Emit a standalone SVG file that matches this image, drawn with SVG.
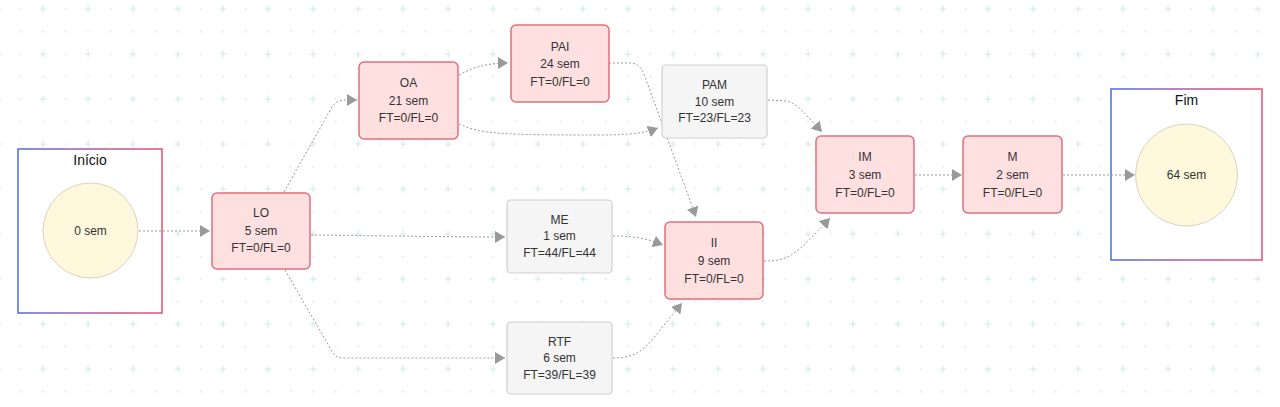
<svg xmlns="http://www.w3.org/2000/svg" width="1280" height="407" viewBox="0 0 1280 407">
<defs>
<pattern id="grid" patternUnits="userSpaceOnUse" x="31.75" y="-2.25" width="45" height="45">
<path d="M7.75,11.25 H14.75 M11.25,7.75 V14.75" stroke="#d3e8ee" stroke-width="1.2"/>
<circle cx="33.75" cy="11.25" r="1" fill="#dfe6ea"/>
<circle cx="11.25" cy="33.75" r="1" fill="#dfe6ea"/>
<circle cx="33.75" cy="33.75" r="1" fill="#dfe6ea"/>
</pattern>
<linearGradient id="bord" x1="0" y1="0" x2="1" y2="0">
<stop offset="0" stop-color="#4a6ce0"/>
<stop offset="0.5" stop-color="#b05aa8"/>
<stop offset="1" stop-color="#e5506e"/>
</linearGradient>
<marker id="arr" markerUnits="userSpaceOnUse" viewBox="0 0 10 12" refX="10" refY="6" markerWidth="10" markerHeight="12" orient="auto">
<path d="M0,0 L10,6 L0,12 z" fill="#999"/>
</marker>
<style>
.crit{fill:#ffe0e1;stroke:#e0707c;stroke-width:1.5}
.norm{fill:#f5f5f5;stroke:#cfcfcf;stroke-width:1.2}
.circ{fill:#fff8dc;stroke:#d9d2c0;stroke-width:1}
.box{fill:#ffffff;stroke:url(#bord);stroke-width:1.5}
.t{font-family:"Liberation Sans",Arial,sans-serif;font-size:12px;fill:#333;text-anchor:middle}
.title{font-family:"Liberation Sans",Arial,sans-serif;font-size:14px;fill:#111;text-anchor:middle}
.e{fill:none;stroke:#999;stroke-width:1;stroke-dasharray:2 2;marker-end:url(#arr)}
</style>
</defs>
<rect width="1280" height="407" fill="#ffffff"/>
<rect width="1280" height="407" fill="url(#grid)"/>

<g id="inicio">
<rect class="box" x="18" y="149" width="144" height="164"/>
<text class="title" x="90" y="165">Início</text>
<circle class="circ" cx="90.5" cy="230.5" r="47.5"/>
<text class="t" x="90.5" y="235">0 sem</text>
</g>

<g id="fim">
<rect class="box" x="1111" y="89" width="151" height="171"/>
<text class="title" x="1186.5" y="105">Fim</text>
<circle class="circ" cx="1186.5" cy="175" r="51"/>
<text class="t" x="1186.5" y="179">64 sem</text>
</g>

<g id="connectors">
<path class="e" d="M139,231 L210,231"/>
<path class="e" d="M284,192 L332,107 C336,101 340,100 347,100 L357,100"/>
<path class="e" d="M311,235 C400,236 450,237 505,237"/>
<path class="e" d="M285,270 L333,353 C336,357 338,358 344,358 L505,358"/>
<path class="e" d="M459,75 C475,66 490,63 508,63"/>
<path class="e" d="M459,124 C480,134 500,135 600,135 C630,135 645,133 658,128"/>
<path class="e" d="M609,63 L630,63 C637,63 641,67 644,74 L696,217"/>
<path class="e" d="M768,100 L785,101 C795,102 800,108 822,132"/>
<path class="e" d="M613,236 C640,236 650,240 663,245"/>
<path class="e" d="M613,358 C632,358 642,352 652,340 L682,303"/>
<path class="e" d="M764,261 C790,261 795,255 830,218"/>
<path class="e" d="M915,175 L962,175"/>
<path class="e" d="M1063,175 L1135,175"/>
</g>

<g id="LO">
<rect class="crit" x="212" y="193" width="98" height="76" rx="5"/>
<text class="t" x="261" y="217">LO</text>
<text class="t" x="261" y="235">5 sem</text>
<text class="t" x="261" y="252">FT=0/FL=0</text>
</g>
<g id="OA">
<rect class="crit" x="359" y="62" width="99" height="77" rx="5"/>
<text class="t" x="408.5" y="87">OA</text>
<text class="t" x="408.5" y="105">21 sem</text>
<text class="t" x="408.5" y="122">FT=0/FL=0</text>
</g>
<g id="PAI">
<rect class="crit" x="511" y="25" width="98" height="77" rx="5"/>
<text class="t" x="560" y="51">PAI</text>
<text class="t" x="560" y="68">24 sem</text>
<text class="t" x="560" y="86">FT=0/FL=0</text>
</g>
<g id="PAM">
<rect class="norm" x="662" y="65" width="105" height="73" rx="4"/>
<text class="t" x="714.5" y="89">PAM</text>
<text class="t" x="714.5" y="106">10 sem</text>
<text class="t" x="714.5" y="122">FT=23/FL=23</text>
</g>
<g id="ME">
<rect class="norm" x="507" y="200" width="105" height="73" rx="4"/>
<text class="t" x="559.5" y="224">ME</text>
<text class="t" x="559.5" y="240">1 sem</text>
<text class="t" x="559.5" y="257">FT=44/FL=44</text>
</g>
<g id="RTF">
<rect class="norm" x="507" y="322" width="105" height="72" rx="4"/>
<text class="t" x="559.5" y="346">RTF</text>
<text class="t" x="559.5" y="362">6 sem</text>
<text class="t" x="559.5" y="379">FT=39/FL=39</text>
</g>
<g id="II">
<rect class="crit" x="665" y="222" width="98" height="77" rx="5"/>
<text class="t" x="714" y="247">II</text>
<text class="t" x="714" y="265">9 sem</text>
<text class="t" x="714" y="283">FT=0/FL=0</text>
</g>
<g id="IM">
<rect class="crit" x="816" y="136" width="98" height="77" rx="5"/>
<text class="t" x="865" y="161">IM</text>
<text class="t" x="865" y="179">3 sem</text>
<text class="t" x="865" y="197">FT=0/FL=0</text>
</g>
<g id="M">
<rect class="crit" x="963" y="136" width="99" height="77" rx="5"/>
<text class="t" x="1012.5" y="161">M</text>
<text class="t" x="1012.5" y="179">2 sem</text>
<text class="t" x="1012.5" y="197">FT=0/FL=0</text>
</g>
</svg>
